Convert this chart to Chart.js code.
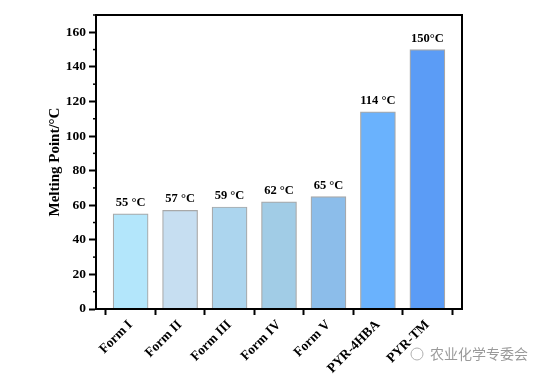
<!DOCTYPE html>
<html><head><meta charset="utf-8">
<script src="https://cdn.jsdelivr.net/npm/chart.js@4/dist/chart.umd.min.js"></script>
<style>html,body{margin:0;padding:0;background:#fff}#w{width:536px;height:378px;position:relative}</style>
</head><body><div id="w"><canvas id="c" width="536" height="378"></canvas></div>
<script>
const categories = ["Form I","Form II","Form III","Form IV","Form V","PYR-4HBA","PYR-TM"];
const meltingPoints = [55,57,59,62,65,114,150];
const valueLabels = ["55 °C","57 °C","59 °C","62 °C","65 °C","114 °C","150°C"];
const barColors = ["#b3e6fb","#c6def1","#acd5ee","#a1cce6","#8cbdea","#6ab2fd","#5b9cf6"];
const yTitle = "Melting Point/°C";
const watermark = "农业化学专委会";

const SERIF = "'Liberation Serif','Times New Roman',serif";

const framePlugin = {
  id:'frame',
  afterDraw(chart){
    const {ctx, chartArea:a, scales:{y}} = chart;
    ctx.save();
    ctx.strokeStyle='#000'; ctx.lineWidth=2;
    ctx.strokeRect(a.left, a.top, a.right-a.left, a.bottom-a.top);
    ctx.lineWidth=1.5;
    for(let v=10; v<=170; v+=20){
      const py=y.getPixelForValue(v);
      ctx.beginPath(); ctx.moveTo(a.left-3,py); ctx.lineTo(a.left,py); ctx.stroke();
    }
    const meta=chart.getDatasetMeta(0);
    ctx.fillStyle='#000'; ctx.font="bold 12.5px "+SERIF; ctx.textAlign='center'; ctx.textBaseline='bottom';
    meta.data.forEach((bar,i)=>{ ctx.fillText(valueLabels[i], bar.x, bar.y-5); });
    ctx.font="14px 'Noto Sans CJK SC',sans-serif"; ctx.fillStyle='#9a9a9a'; ctx.textAlign='left'; ctx.textBaseline='middle';
    ctx.fillText(watermark, 430, 354);
    ctx.strokeStyle='#b0b0b0'; ctx.lineWidth=1;
    ctx.beginPath(); ctx.arc(417,354,6,0,Math.PI*2); ctx.stroke();
    ctx.restore();
  }
};

new Chart(document.getElementById('c'),{
  type:'bar',
  data:{datasets:[{
    data:meltingPoints.map((v,i)=>({x:i,y:v})),
    backgroundColor:barColors,
    borderColor:'#a8a8a8',
    borderWidth:1.2,
    barThickness:35
  }]},
  options:{
    responsive:false, animation:false,
    layout:{padding:{top:15,right:74,left:46,bottom:0}},
    plugins:{legend:{display:false},tooltip:{enabled:false}},
    scales:{
      x:{
        type:'linear', min:-0.7, max:6.7, offset:false,
        afterBuildTicks:s=>{ s.ticks=categories.map((c,i)=>({value:i})); },
        afterFit:s=>{ s.height=69; },
        grid:{drawOnChartArea:false, tickLength:6, tickColor:'#000', tickWidth:2},
        border:{display:true,color:'#000',width:2},
        ticks:{
          autoSkip:false, maxRotation:45, minRotation:45, padding:2,
          color:'#000', font:{family:SERIF, size:13.5, weight:'bold'},
          callback:(v)=>categories[v]
        }
      },
      y:{
        min:0, max:170,
        afterBuildTicks:s=>{ s.ticks=[0,20,40,60,80,100,120,140,160].map(v=>({value:v})); },
        afterFit:s=>{ s.width=50; },
        grid:{drawOnChartArea:false, tickLength:7, tickColor:'#000', tickWidth:2},
        border:{display:true,color:'#000',width:2},
        ticks:{color:'#000', padding:3, font:{family:SERIF, size:13.5, weight:'bold'}},
        title:{display:true, text:yTitle, color:'#000', padding:{top:0,bottom:4}, font:{family:SERIF, size:15, weight:'bold'}}
      }
    }
  },
  plugins:[framePlugin]
});
</script></body></html>
